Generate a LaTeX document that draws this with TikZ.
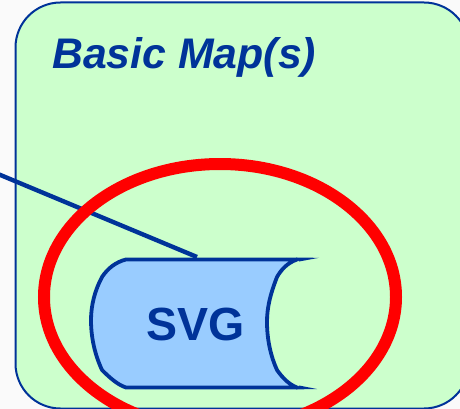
\documentclass[tikz,border=0pt]{standalone}
\usepackage{fontspec}
\setmainfont{Liberation Sans}
\definecolor{dkblue}{HTML}{003399}
\definecolor{mapgreen}{HTML}{CCFFCC}
\definecolor{svgblue}{HTML}{99CCFF}
\definecolor{pagebg}{HTML}{FAFAFA}
\tikzset{
  mapbox/.style={draw=dkblue,line width=2pt,fill=mapgreen,rounded corners=45pt},
  redring/.style={draw=red,line width=12pt},
  svgshape/.style={draw=dkblue,line width=3.8pt,fill=svgblue,line join=round},
  leader/.style={draw=dkblue,line width=4.4pt},
  maptitle/.style={text=dkblue,font=\fontsize{42.8}{48}\selectfont\bfseries\itshape,anchor=base west,inner sep=0pt},
  svgtext/.style={text=dkblue,font=\fontsize{46.5}{50}\selectfont\bfseries,anchor=base,inner sep=0pt}
}
\begin{document}
\begin{tikzpicture}[x=1pt,y=-1pt]
\useasboundingbox (0,0) rectangle (460,409);
\clip (0,0) rectangle (460,409);
\fill[pagebg] (0,0) rectangle (460,409);
\draw[mapbox] (15.5,2.5) rectangle (469,408.5);
\node[maptitle] (title) at (52,69) {Basic Map(s)};
\coordinate (linestart) at (-2,174);
\coordinate (lineend) at (197,257);
\draw[leader] (linestart) -- (lineend);
\draw[redring] (220,297) ellipse [x radius=176,y radius=133];
\draw[svgshape] (297,259.5)
  .. controls (287,263) and (281,270) .. (277,277)
  .. controls (270,295) and (267,308) .. (267,322)
  .. controls (267,340) and (271,357) .. (277,370)
  .. controls (282,377) and (288,384) .. (297,387.5)
  -- (126,387.5)
  .. controls (118,385) and (110,378) .. (102,370)
  .. controls (95,355) and (91,338) .. (91,320)
  .. controls (91,305) and (95,290) .. (102,277)
  .. controls (108,268) and (116,262) .. (126,259.5)
  -- cycle;
\fill[dkblue] (296,257.6) -- (319,257.8) -- (299,261.5) -- cycle;
\fill[dkblue] (296,389.4) -- (317,389) -- (299,385.5) -- cycle;
\node[svgtext] (svg) at (196,340.5) {SVG};
\end{tikzpicture}
\end{document}
